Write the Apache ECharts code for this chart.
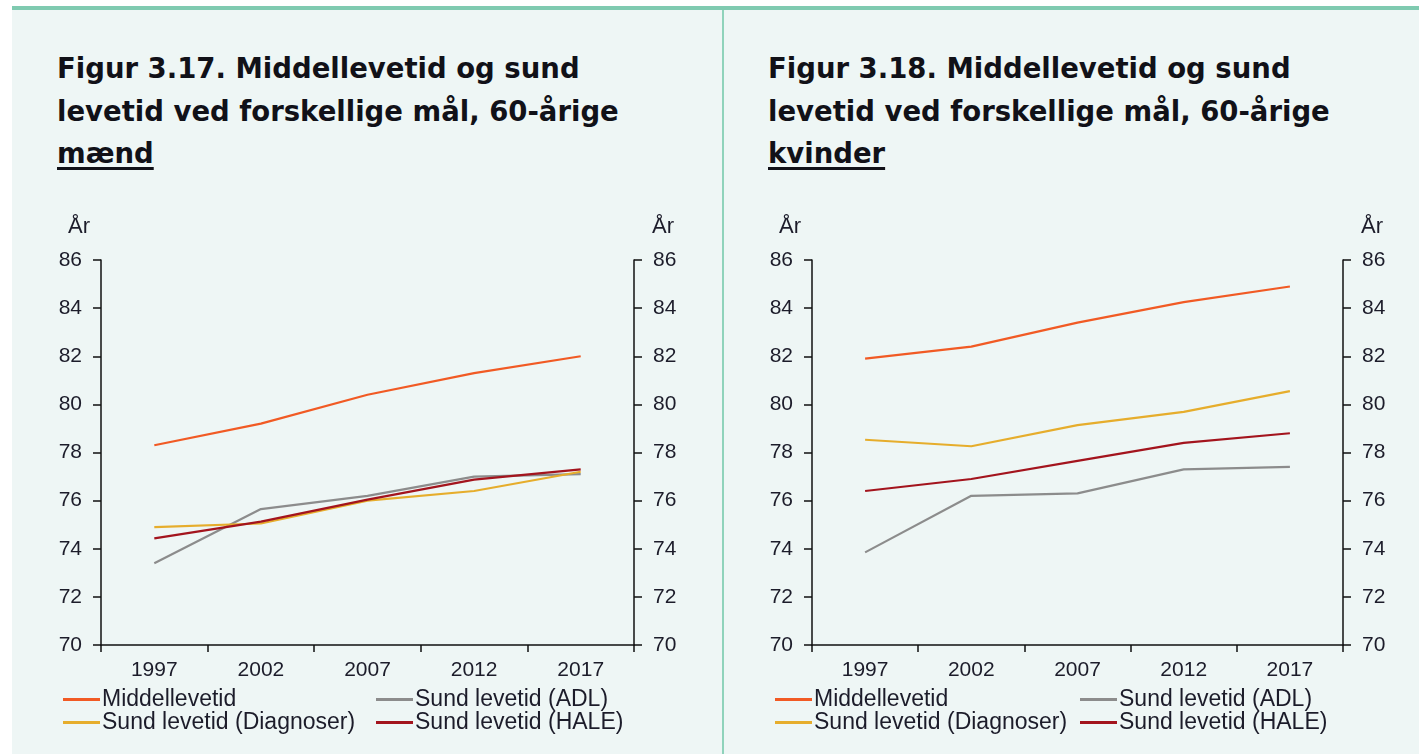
<!DOCTYPE html>
<html>
<head>
<meta charset="utf-8">
<script src="https://cdn.jsdelivr.net/npm/echarts@6/dist/echarts.min.js"></script>
<style>
  html, body { margin:0; padding:0; width:1419px; height:754px; background:#ffffff; overflow:hidden; }
  #panel { position:absolute; left:12px; top:6px; width:1407px; height:748px; background:#eef6f5; border-top:4px solid #7fcab0; box-sizing:border-box; }
  #divider { position:absolute; left:722px; top:10px; width:2px; height:744px; background:#8fd3bb; }
  .title { position:absolute; top:47px; font:bold 27.5px "DejaVu Sans", Verdana, sans-serif; line-height:42.5px; color:#111118; }
  .title u { text-decoration-thickness:3px; text-underline-offset:4px; }
  #chart { position:absolute; left:0; top:0; width:1419px; height:754px; }
</style>
</head>
<body>
<div id="panel"></div>
<div id="divider"></div>
<div class="title" style="left:57px">Figur 3.17. Middellevetid og sund<br>levetid ved forskellige mål, 60-årige<br><u>mænd</u></div>
<div class="title" style="left:768px">Figur 3.18. Middellevetid og sund<br>levetid ved forskellige mål, 60-årige<br><u>kvinder</u></div>
<div id="chart"></div>
<script>
(function(){
  var years = ['1997', '2002', '2007', '2012', '2017'];
  var names = ['Middellevetid', 'Sund levetid (ADL)', 'Sund levetid (Diagnoser)', 'Sund levetid (HALE)'];
  var colors = ['#f15a24', '#8c8c8c', '#e6ad2c', '#a3141d'];

  // 60-årige mænd
  var menMiddel = [78.3, 79.2, 80.4, 81.3, 82.0];
  var menADL = [73.4, 75.65, 76.2, 77.0, 77.1];
  var menDiag = [74.9, 75.05, 76.0, 76.4, 77.2];
  var menHALE = [74.43, 75.13, 76.04, 76.87, 77.3];

  // 60-årige kvinder
  var womenMiddel = [81.9, 82.4, 83.4, 84.25, 84.9];
  var womenADL = [73.85, 76.2, 76.3, 77.3, 77.4];
  var womenDiag = [78.53, 78.26, 79.14, 79.69, 80.55];
  var womenHALE = [76.4, 76.9, 77.65, 78.4, 78.8];

  var yMin = 70, yMax = 86, yStep = 2;

  var txt = '#1c1c2a';
  var axisCol = '#111111';
  var font = '"Liberation Sans", Arial, sans-serif';

  var c = echarts.init(document.getElementById('chart'));

  var grids = [
    { left: 101, top: 260, width: 533, height: 385 },
    { left: 812, top: 260, width: 531, height: 385 }
  ];

  var xAxes = [], yAxes = [], series = [], legends = [];
  grids.forEach(function(g, i){
    xAxes.push({
      type: 'category', gridIndex: i, data: years, boundaryGap: true,
      axisLine: { lineStyle: { color: axisCol, width: 1.5 } },
      axisTick: { show: true, interval: 0, length: 7, lineStyle: { color: axisCol, width: 1.5 } },
      axisLabel: { color: txt, fontFamily: font, fontSize: 21, margin: 15, interval: 0 },
      splitLine: { show: false }
    });
    [['left', 'right', [0, 11, 0, 0]], ['right', 'left', [0, 0, 0, 18]]].forEach(function(p){
      yAxes.push({
        type: 'value', gridIndex: i, position: p[0], min: yMin, max: yMax, interval: yStep,
        name: 'År', nameLocation: 'end', nameGap: 22,
        nameTextStyle: { color: txt, fontFamily: font, fontSize: 22, align: p[1], padding: p[2] },
        axisLine: { show: true, lineStyle: { color: axisCol, width: 1.5 } },
        axisTick: { show: true, length: 8, lineStyle: { color: axisCol, width: 1.5 } },
        axisLabel: { color: txt, fontFamily: font, fontSize: 21, margin: 19 },
        splitLine: { show: false }
      });
    });
  });

  var sets = [
    [menMiddel, menADL, menDiag, menHALE],
    [womenMiddel, womenADL, womenDiag, womenHALE]
  ];
  sets.forEach(function(set, i){
    set.forEach(function(vals, k){
      series.push({
        name: names[k], type: 'line', xAxisIndex: i, yAxisIndex: i * 2,
        data: vals, showSymbol: false, symbol: 'none',
        lineStyle: { color: colors[k], width: 2.2 },
        itemStyle: { color: colors[k] },
        z: k === 1 ? 2 : 3
      });
    });
  });

  var legendCols = [[63, 376], [775, 1080]];
  legendCols.forEach(function(cols){
    [[names[0], names[2]], [names[1], names[3]]].forEach(function(d, j){
      legends.push({
        data: d, orient: 'vertical', left: cols[j], top: 688, itemGap: 0, padding: 0,
        icon: 'rect', itemWidth: 37, itemHeight: 3,
        selectedMode: false,
        textStyle: { color: txt, fontFamily: font, fontSize: 23, lineHeight: 23, padding: [0, 0, 0, -3] }
      });
    });
  });

  c.setOption({
    animation: false,
    color: colors,
    grid: grids,
    xAxis: xAxes,
    yAxis: yAxes,
    legend: legends,
    series: series
  });
})();
</script>
</body>
</html>
